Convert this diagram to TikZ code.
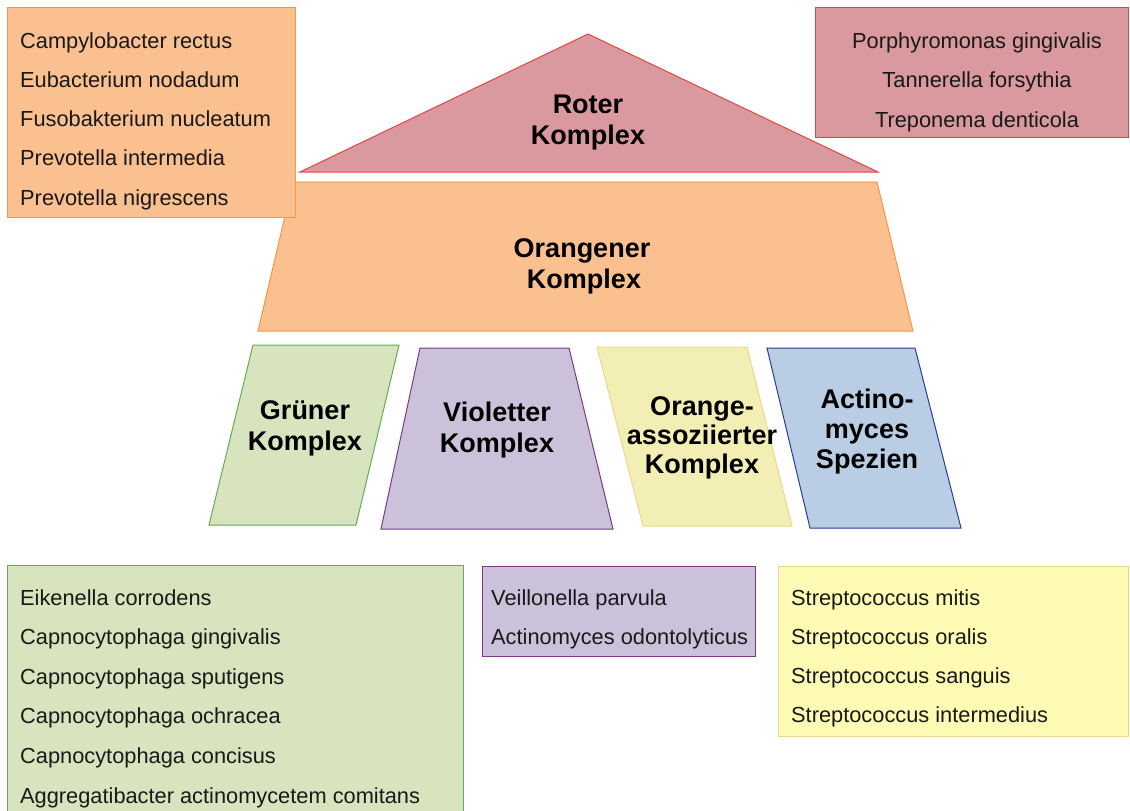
\documentclass[tikz,border=0pt]{standalone}
\usepackage{fontspec}
\setmainfont{Liberation Sans}
\definecolor{txt}{RGB}{25,25,25}
\definecolor{redF}{RGB}{217,153,158}
\definecolor{redD}{RGB}{226,70,72}
\definecolor{redB}{RGB}{192,80,77}
\definecolor{orF}{RGB}{250,192,144}
\definecolor{orD}{RGB}{247,150,70}
\definecolor{grF}{RGB}{216,228,190}
\definecolor{grD}{RGB}{100,172,85}
\definecolor{viF}{RGB}{204,193,218}
\definecolor{viD}{RGB}{128,55,135}
\definecolor{yeF}{RGB}{242,238,180}
\definecolor{yeD}{RGB}{240,214,140}
\definecolor{yeBF}{RGB}{255,251,180}
\definecolor{blF}{RGB}{185,205,229}
\definecolor{blD}{RGB}{40,60,150}
\tikzset{
  listbox/.style={draw, line width=1pt, inner sep=0pt, anchor=north west},
  item/.style={anchor=base west, inner sep=0pt, text=txt, font=\fontsize{21.8}{25}\selectfont},
  citem/.style={anchor=base, inner sep=0pt, text=txt, font=\fontsize{21.8}{25}\selectfont},
  lab/.style={anchor=base, inner sep=0pt, text=black, font=\bfseries\fontsize{27}{30}\selectfont},
  shp/.style={line width=1pt, line join=miter}
}
\begin{document}
\begin{tikzpicture}[x=1pt,y=-1pt]
\useasboundingbox[fill=white] (0,0) rectangle (1130,811);

% pyramid shapes
\filldraw[shp, fill=orF, draw=orD] (293,182) -- (877,182) -- (913,331) -- (258,331) -- cycle;
\filldraw[shp, fill=redF, draw=redD] (300,172) -- (588,34) -- (878,172) -- cycle;
\filldraw[shp, fill=grF, draw=grD] (253,345) -- (399,345) -- (356,525) -- (209,525) -- cycle;
\filldraw[shp, fill=viF, draw=viD] (420,348) -- (569,348) -- (613,529) -- (381,529) -- cycle;
\filldraw[shp, fill=yeF, draw=yeD] (597,347) -- (747,347) -- (792,526) -- (643,526) -- cycle;
\filldraw[shp, fill=blF, draw=blD] (767,348) -- (915,348) -- (961,528) -- (810,528) -- cycle;

% labels
\node[lab] (ro1) at (588,113) {Roter};
\node[lab] (ro2) at (588,144) {Komplex};
\node[lab] (or1) at (582,257) {Orangener};
\node[lab] (or2) at (584,288) {Komplex};
\node[lab] (gr1) at (305,419) {Grüner};
\node[lab] (gr2) at (305,450) {Komplex};
\node[lab] (vi1) at (497,421) {Violetter};
\node[lab] (vi2) at (497,452) {Komplex};
\node[lab] (oa1) at (702,415) {Orange-};
\node[lab] (oa2) at (702,444) {assoziierter};
\node[lab] (oa3) at (702,473) {Komplex};
\node[lab] (ac1) at (867,408) {Actino-};
\node[lab] (ac2) at (867,438) {myces};
\node[lab] (ac3) at (867,468) {Spezien};

% list boxes
\node[listbox, fill=orF, draw=orD, minimum width=288pt, minimum height=210pt] (obox) at (7,7) {};
\node[listbox, fill=redF, draw=redB, minimum width=313pt, minimum height=130pt] (rbox) at (815,7) {};
\node[listbox, fill=grF, draw=grD, minimum width=456pt, minimum height=270pt] (gbox) at (7,565) {};
\node[listbox, fill=viF, draw=viD, minimum width=273pt, minimum height=90pt] (vbox) at (482,566) {};
\node[listbox, fill=yeBF, draw=yeD, minimum width=350pt, minimum height=170pt] (ybox) at (778,566) {};

\foreach \t [count=\i from 0] in {Campylobacter rectus, Eubacterium nodadum, Fusobakterium nucleatum, Prevotella intermedia, Prevotella nigrescens}
  \node[item] (oi\i) at (20,48+39.3*\i) {\t};
\foreach \t [count=\i from 0] in {Porphyromonas gingivalis, Tannerella forsythia, Treponema denticola}
  \node[citem] (ri\i) at (977,48+39.5*\i) {\t};
\foreach \t [count=\i from 0] in {Eikenella corrodens, Capnocytophaga gingivalis, Capnocytophaga sputigens, Capnocytophaga ochracea, Capnocytophaga concisus, Aggregatibacter actinomycetem comitans}
  \node[item] (gi\i) at (20,605+39.6*\i) {\t};
\foreach \t [count=\i from 0] in {Veillonella parvula, Actinomyces odontolyticus}
  \node[item] (vi\i) at (491,605+39.3*\i) {\t};
\foreach \t [count=\i from 0] in {Streptococcus mitis, Streptococcus oralis, Streptococcus sanguis, Streptococcus intermedius}
  \node[item] (yi\i) at (791,605+39.3*\i) {\t};
\end{tikzpicture}
\end{document}
